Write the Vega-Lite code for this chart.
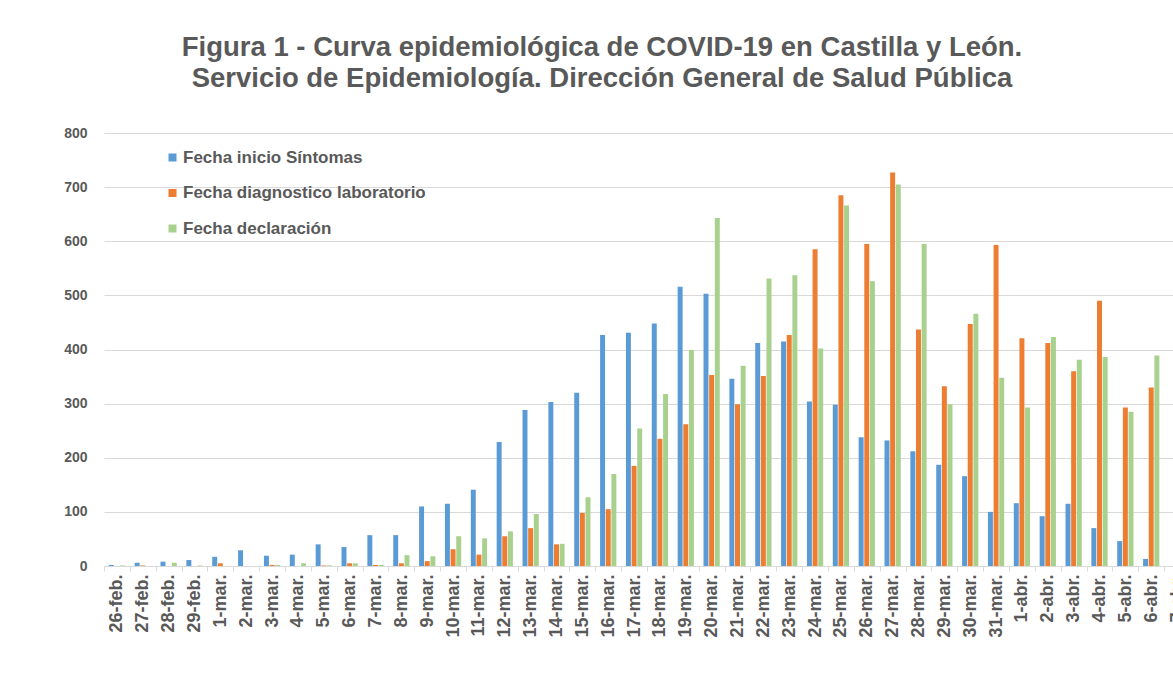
{
  "$schema": "https://vega.github.io/schema/vega-lite/v6.json",
  "autosize": {"type": "none"},
  "width": 1086,
  "height": 433,
  "padding": {"left": 104, "top": 133, "right": -17, "bottom": 113},
  "background": "white",
  "config": {"view": {"stroke": null}, "font": "Liberation Sans"},
  "title": {
    "text": ["Figura 1 - Curva epidemiológica de COVID-19 en Castilla y León.", "Servicio de Epidemiología. Dirección General de Salud Pública"],
    "font": "Liberation Sans",
    "fontSize": 27.5,
    "fontWeight": "bold",
    "color": "#595959",
    "lineHeight": 31,
    "anchor": "middle",
    "dx": -45,
    "offset": 34
  },
  "data": {"values": [
    {"d":"26-feb.","s":"Fecha inicio Síntomas","v":2},{"d":"26-feb.","s":"Fecha diagnostico laboratorio","v":0},{"d":"26-feb.","s":"Fecha declaración","v":1},
    {"d":"27-feb.","s":"Fecha inicio Síntomas","v":6},{"d":"27-feb.","s":"Fecha diagnostico laboratorio","v":1},{"d":"27-feb.","s":"Fecha declaración","v":0},
    {"d":"28-feb.","s":"Fecha inicio Síntomas","v":8},{"d":"28-feb.","s":"Fecha diagnostico laboratorio","v":0},{"d":"28-feb.","s":"Fecha declaración","v":6},
    {"d":"29-feb.","s":"Fecha inicio Síntomas","v":11},{"d":"29-feb.","s":"Fecha diagnostico laboratorio","v":0},{"d":"29-feb.","s":"Fecha declaración","v":1},
    {"d":"1-mar.","s":"Fecha inicio Síntomas","v":17},{"d":"1-mar.","s":"Fecha diagnostico laboratorio","v":5},{"d":"1-mar.","s":"Fecha declaración","v":0},
    {"d":"2-mar.","s":"Fecha inicio Síntomas","v":29},{"d":"2-mar.","s":"Fecha diagnostico laboratorio","v":0},{"d":"2-mar.","s":"Fecha declaración","v":0},
    {"d":"3-mar.","s":"Fecha inicio Síntomas","v":19},{"d":"3-mar.","s":"Fecha diagnostico laboratorio","v":2},{"d":"3-mar.","s":"Fecha declaración","v":2},
    {"d":"4-mar.","s":"Fecha inicio Síntomas","v":21},{"d":"4-mar.","s":"Fecha diagnostico laboratorio","v":0},{"d":"4-mar.","s":"Fecha declaración","v":5},
    {"d":"5-mar.","s":"Fecha inicio Síntomas","v":40},{"d":"5-mar.","s":"Fecha diagnostico laboratorio","v":1},{"d":"5-mar.","s":"Fecha declaración","v":1},
    {"d":"6-mar.","s":"Fecha inicio Síntomas","v":35},{"d":"6-mar.","s":"Fecha diagnostico laboratorio","v":5},{"d":"6-mar.","s":"Fecha declaración","v":5},
    {"d":"7-mar.","s":"Fecha inicio Síntomas","v":57},{"d":"7-mar.","s":"Fecha diagnostico laboratorio","v":2},{"d":"7-mar.","s":"Fecha declaración","v":2},
    {"d":"8-mar.","s":"Fecha inicio Síntomas","v":57},{"d":"8-mar.","s":"Fecha diagnostico laboratorio","v":5},{"d":"8-mar.","s":"Fecha declaración","v":20},
    {"d":"9-mar.","s":"Fecha inicio Síntomas","v":110},{"d":"9-mar.","s":"Fecha diagnostico laboratorio","v":9},{"d":"9-mar.","s":"Fecha declaración","v":18},
    {"d":"10-mar.","s":"Fecha inicio Síntomas","v":115},{"d":"10-mar.","s":"Fecha diagnostico laboratorio","v":31},{"d":"10-mar.","s":"Fecha declaración","v":55},
    {"d":"11-mar.","s":"Fecha inicio Síntomas","v":141},{"d":"11-mar.","s":"Fecha diagnostico laboratorio","v":21},{"d":"11-mar.","s":"Fecha declaración","v":51},
    {"d":"12-mar.","s":"Fecha inicio Síntomas","v":229},{"d":"12-mar.","s":"Fecha diagnostico laboratorio","v":55},{"d":"12-mar.","s":"Fecha declaración","v":64},
    {"d":"13-mar.","s":"Fecha inicio Síntomas","v":288},{"d":"13-mar.","s":"Fecha diagnostico laboratorio","v":70},{"d":"13-mar.","s":"Fecha declaración","v":96},
    {"d":"14-mar.","s":"Fecha inicio Síntomas","v":303},{"d":"14-mar.","s":"Fecha diagnostico laboratorio","v":40},{"d":"14-mar.","s":"Fecha declaración","v":41},
    {"d":"15-mar.","s":"Fecha inicio Síntomas","v":320},{"d":"15-mar.","s":"Fecha diagnostico laboratorio","v":98},{"d":"15-mar.","s":"Fecha declaración","v":127},
    {"d":"16-mar.","s":"Fecha inicio Síntomas","v":427},{"d":"16-mar.","s":"Fecha diagnostico laboratorio","v":105},{"d":"16-mar.","s":"Fecha declaración","v":170},
    {"d":"17-mar.","s":"Fecha inicio Síntomas","v":431},{"d":"17-mar.","s":"Fecha diagnostico laboratorio","v":185},{"d":"17-mar.","s":"Fecha declaración","v":254},
    {"d":"18-mar.","s":"Fecha inicio Síntomas","v":448},{"d":"18-mar.","s":"Fecha diagnostico laboratorio","v":235},{"d":"18-mar.","s":"Fecha declaración","v":318},
    {"d":"19-mar.","s":"Fecha inicio Síntomas","v":516},{"d":"19-mar.","s":"Fecha diagnostico laboratorio","v":262},{"d":"19-mar.","s":"Fecha declaración","v":399},
    {"d":"20-mar.","s":"Fecha inicio Síntomas","v":503},{"d":"20-mar.","s":"Fecha diagnostico laboratorio","v":353},{"d":"20-mar.","s":"Fecha declaración","v":643},
    {"d":"21-mar.","s":"Fecha inicio Síntomas","v":346},{"d":"21-mar.","s":"Fecha diagnostico laboratorio","v":299},{"d":"21-mar.","s":"Fecha declaración","v":370},
    {"d":"22-mar.","s":"Fecha inicio Síntomas","v":412},{"d":"22-mar.","s":"Fecha diagnostico laboratorio","v":351},{"d":"22-mar.","s":"Fecha declaración","v":531},
    {"d":"23-mar.","s":"Fecha inicio Síntomas","v":415},{"d":"23-mar.","s":"Fecha diagnostico laboratorio","v":427},{"d":"23-mar.","s":"Fecha declaración","v":537},
    {"d":"24-mar.","s":"Fecha inicio Síntomas","v":304},{"d":"24-mar.","s":"Fecha diagnostico laboratorio","v":585},{"d":"24-mar.","s":"Fecha declaración","v":402},
    {"d":"25-mar.","s":"Fecha inicio Síntomas","v":298},{"d":"25-mar.","s":"Fecha diagnostico laboratorio","v":685},{"d":"25-mar.","s":"Fecha declaración","v":666},
    {"d":"26-mar.","s":"Fecha inicio Síntomas","v":238},{"d":"26-mar.","s":"Fecha diagnostico laboratorio","v":595},{"d":"26-mar.","s":"Fecha declaración","v":526},
    {"d":"27-mar.","s":"Fecha inicio Síntomas","v":232},{"d":"27-mar.","s":"Fecha diagnostico laboratorio","v":727},{"d":"27-mar.","s":"Fecha declaración","v":705},
    {"d":"28-mar.","s":"Fecha inicio Síntomas","v":212},{"d":"28-mar.","s":"Fecha diagnostico laboratorio","v":437},{"d":"28-mar.","s":"Fecha declaración","v":595},
    {"d":"29-mar.","s":"Fecha inicio Síntomas","v":187},{"d":"29-mar.","s":"Fecha diagnostico laboratorio","v":332},{"d":"29-mar.","s":"Fecha declaración","v":299},
    {"d":"30-mar.","s":"Fecha inicio Síntomas","v":166},{"d":"30-mar.","s":"Fecha diagnostico laboratorio","v":447},{"d":"30-mar.","s":"Fecha declaración","v":466},
    {"d":"31-mar.","s":"Fecha inicio Síntomas","v":100},{"d":"31-mar.","s":"Fecha diagnostico laboratorio","v":593},{"d":"31-mar.","s":"Fecha declaración","v":348},
    {"d":"1-abr.","s":"Fecha inicio Síntomas","v":116},{"d":"1-abr.","s":"Fecha diagnostico laboratorio","v":421},{"d":"1-abr.","s":"Fecha declaración","v":293},
    {"d":"2-abr.","s":"Fecha inicio Síntomas","v":92},{"d":"2-abr.","s":"Fecha diagnostico laboratorio","v":412},{"d":"2-abr.","s":"Fecha declaración","v":423},
    {"d":"3-abr.","s":"Fecha inicio Síntomas","v":115},{"d":"3-abr.","s":"Fecha diagnostico laboratorio","v":360},{"d":"3-abr.","s":"Fecha declaración","v":381},
    {"d":"4-abr.","s":"Fecha inicio Síntomas","v":70},{"d":"4-abr.","s":"Fecha diagnostico laboratorio","v":490},{"d":"4-abr.","s":"Fecha declaración","v":386},
    {"d":"5-abr.","s":"Fecha inicio Síntomas","v":46},{"d":"5-abr.","s":"Fecha diagnostico laboratorio","v":293},{"d":"5-abr.","s":"Fecha declaración","v":285},
    {"d":"6-abr.","s":"Fecha inicio Síntomas","v":13},{"d":"6-abr.","s":"Fecha diagnostico laboratorio","v":330},{"d":"6-abr.","s":"Fecha declaración","v":389}
  ]},
  "mark": {"type": "bar"},
  "encoding": {
    "x": {
      "field": "d",
      "type": "nominal",
      "title": null,
      "scale": {
        "domain": ["26-feb.","27-feb.","28-feb.","29-feb.","1-mar.","2-mar.","3-mar.","4-mar.","5-mar.","6-mar.","7-mar.","8-mar.","9-mar.","10-mar.","11-mar.","12-mar.","13-mar.","14-mar.","15-mar.","16-mar.","17-mar.","18-mar.","19-mar.","20-mar.","21-mar.","22-mar.","23-mar.","24-mar.","25-mar.","26-mar.","27-mar.","28-mar.","29-mar.","30-mar.","31-mar.","1-abr.","2-abr.","3-abr.","4-abr.","5-abr.","6-abr.","7-abr."],
        "paddingInner": 0,
        "paddingOuter": 0
      },
      "axis": {
        "labelAngle": -90,
        "labelFont": "Liberation Sans",
        "labelFontSize": 18,
        "labelFontWeight": "bold",
        "labelColor": "#595959",
        "labelPadding": 3,
        "domainColor": "#D9D9D9",
        "domainWidth": 1,
        "tickColor": "#D9D9D9",
        "tickSize": 5,
        "tickBand": "extent",
        "grid": false
      }
    },
    "xOffset": {
      "field": "s",
      "type": "nominal",
      "scale": {
        "domain": ["Fecha inicio Síntomas", "Fecha diagnostico laboratorio", "Fecha declaración"],
        "paddingInner": 0.12,
        "paddingOuter": 0.85
      }
    },
    "y": {
      "field": "v",
      "type": "quantitative",
      "title": null,
      "scale": {"domain": [0, 800], "nice": false},
      "axis": {
        "values": [0, 100, 200, 300, 400, 500, 600, 700, 800],
        "labelFont": "Liberation Sans",
        "labelFontSize": 14,
        "labelFontWeight": "bold",
        "labelColor": "#595959",
        "labelPadding": 17,
        "domain": false,
        "ticks": false,
        "gridColor": "#D9D9D9",
        "gridWidth": 1
      }
    },
    "color": {
      "field": "s",
      "type": "nominal",
      "scale": {
        "domain": ["Fecha inicio Síntomas", "Fecha diagnostico laboratorio", "Fecha declaración"],
        "range": ["#5B9BD5", "#ED7D31", "#A9D18E"]
      },
      "legend": {
        "title": null,
        "orient": "none",
        "legendX": 60,
        "legendY": 16,
        "direction": "vertical",
        "symbolType": "square",
        "symbolSize": 64,
        "symbolStrokeWidth": 0,
        "labelFont": "Liberation Sans",
        "labelFontSize": 17,
        "labelFontWeight": "bold",
        "labelColor": "#595959",
        "labelOffset": 2,
        "rowPadding": 17.5,
        "labelLimit": 400
      }
    }
  }
}
